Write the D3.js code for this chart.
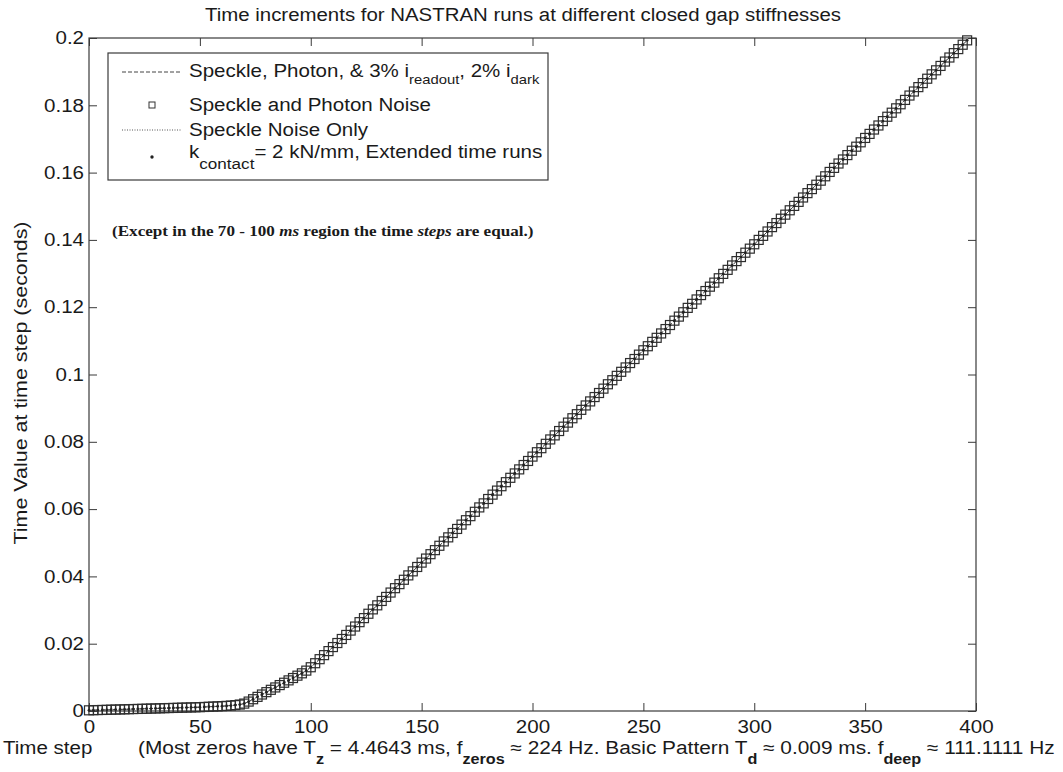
<!DOCTYPE html>
<html><head><meta charset="utf-8">
<script src="https://cdn.jsdelivr.net/npm/d3@7"></script>
<style>
body{margin:0;background:#fff}
text{font-family:"Liberation Sans",Arial,sans-serif;fill:#1a1a1a}
</style>
</head><body><svg id="c" width="1063" height="772"></svg>
<script>
// ---- data ----
const chartTitle = "Time increments for NASTRAN runs at different closed gap stiffnesses";
const yAxisTitle = "Time Value at time step (seconds)";
const xAxisTitle = "Time step";
const xTicks = [0, 50, 100, 150, 200, 250, 300, 350, 400];
const yTicks = [0, 0.02, 0.04, 0.06, 0.08, 0.1, 0.12, 0.14, 0.16, 0.18, 0.2];
const yTickLabels = ["0", "0.02", "0.04", "0.06", "0.08", "0.1", "0.12", "0.14", "0.16", "0.18", "0.2"];
const legendNames = ["Speckle, Photon, & 3% i_readout, 2% i_dark", "Speckle and Photon Noise", "Speckle Noise Only", "k_contact = 2 kN/mm, Extended time runs"];
const timeSteps = [0,2,4,6,8,10,12,14,16,18,20,22,24,26,28,30,32,34,36,38,40,42,44,46,48,50,52,54,56,58,60,62,64,66,68,
70,72,74,76,78,80,82,84,86,88,90,92,94,96,98,
100,102,104,106,108,110,112,114,116,118,120,122,124,126,128,130,132,134,136,138,140,142,144,146,148,
150,152,154,156,158,160,162,164,166,168,170,172,174,176,178,180,182,184,186,188,190,192,194,196,198,
200,202,204,206,208,210,212,214,216,218,220,222,224,226,228,230,232,234,236,238,240,242,244,246,248,
250,252,254,256,258,260,262,264,266,268,270,272,274,276,278,280,282,284,286,288,290,292,294,296,298,
300,302,304,306,308,310,312,314,316,318,320,322,324,326,328,330,332,334,336,338,340,342,344,346,348,
350,352,354,356,358,360,362,364,366,368,370,372,374,376,378,380,382,384,386,388,390,392,394,396];
const timeValues = [0.00020,0.00024,0.00028,0.00031,0.00035,0.00039,0.00043,0.00046,0.00050,0.00054,0.00058,0.00061,0.00065,0.00069,0.00073,0.00076,0.00080,0.00084,0.00088,0.00091,0.00095,0.00099,0.00103,0.00106,0.00110,0.00114,0.00120,0.00126,0.00132,0.00138,0.00144,0.00152,0.00162,0.00175,0.00192,
0.0022,0.0028,0.0035,0.0042,0.0049,0.0056,0.0063,0.0070,0.0077,0.0084,0.0091,0.0098,0.0105,0.0112,0.0120,
0.0130,0.0142,0.0154,0.0166,0.0178,0.0190,0.0202,0.0214,0.0226,0.0239,0.0251,0.0264,0.0276,0.0289,0.0302,0.0314,0.0327,0.0339,0.0352,0.0365,0.0377,0.0390,0.0403,0.0415,0.0428,
0.0441,0.0453,0.0466,0.0478,0.0491,0.0504,0.0516,0.0529,0.0541,0.0554,0.0567,0.0579,0.0592,0.0605,0.0617,0.0630,0.0643,0.0655,0.0668,0.0680,0.0693,0.0706,0.0718,0.0731,0.0743,
0.0756,0.0769,0.0781,0.0794,0.0807,0.0819,0.0832,0.0845,0.0857,0.0870,0.0882,0.0895,0.0908,0.0920,0.0933,0.0945,0.0958,0.0971,0.0983,0.0996,0.1008,0.1021,0.1034,0.1046,0.1059,
0.1072,0.1084,0.1097,0.1109,0.1122,0.1135,0.1147,0.1160,0.1172,0.1185,0.1198,0.1210,0.1223,0.1236,0.1248,0.1261,0.1273,0.1286,0.1299,0.1311,0.1324,0.1337,0.1349,0.1362,0.1374,
0.1387,0.1400,0.1412,0.1425,0.1438,0.1450,0.1463,0.1475,0.1488,0.1501,0.1513,0.1526,0.1539,0.1551,0.1564,0.1576,0.1589,0.1602,0.1614,0.1627,0.1639,0.1652,0.1665,0.1677,0.1690,
0.1703,0.1715,0.1728,0.1740,0.1753,0.1766,0.1778,0.1791,0.1803,0.1816,0.1829,0.1841,0.1854,0.1866,0.1879,0.1892,0.1904,0.1917,0.1930,0.1942,0.1955,0.1967,0.1980,0.1993];

// ---- drawing ----
const svg = d3.select("#c");
const L = 89, R = 976, T = 38, B = 711;
const x = d3.scaleLinear().domain([0, 400]).range([L, R]);
const y = d3.scaleLinear().domain([0, 0.2]).range([B, T]);
const pts = timeSteps.map((s, i) => [s, timeValues[i]]);
const axCol = "#3a3a3a";
const FS = "18px";
const K = 1.14; // horizontal stretch of the reference lettering

function stretch(sel, k) {
  sel.each(function () {
    const w = this.getComputedTextLength();
    this.setAttribute("textLength", (w * k).toFixed(1));
    this.setAttribute("lengthAdjust", "spacingAndGlyphs");
  });
}
function fitTo(sel, w) { sel.attr("textLength", w).attr("lengthAdjust", "spacingAndGlyphs"); }
function scaled(parent, px, py, k) {
  const g = parent.append("g").attr("transform", `translate(${px},${py}) scale(${k},1)`);
  return g.append("text").attr("x", 0).attr("y", 0);
}
// text runs with subscripts; the run after a subscript carries the shift back up
function richText(sel, parts, subSize, dy, subBold) {
  let back = 0;
  parts.forEach(p => {
    if (p.sub !== undefined) {
      const s = sel.append("tspan").attr("dy", dy).style("font-size", subSize).text(p.sub);
      if (subBold) s.style("font-weight", "bold");
      back = -dy;
    } else {
      const s = sel.append("tspan").text(p.t);
      if (back) s.attr("dy", back);
      back = 0;
    }
  });
}

svg.append("rect").attr("x", L).attr("y", T).attr("width", R - L).attr("height", B - T)
  .attr("fill", "none").attr("stroke", axCol).attr("stroke-width", 1.2);

const tl = 8;
const fmtY = d => yTickLabels[yTicks.indexOf(d)];
svg.append("g").attr("transform", `translate(0,${B})`)
  .call(d3.axisBottom(x).tickValues(xTicks).tickSizeInner(-tl).tickSizeOuter(0).tickPadding(9))
  .call(g => { g.select(".domain").remove(); g.selectAll("line").attr("stroke", axCol);
    g.selectAll("text").style("font-size", FS).attr("fill", "#1a1a1a").call(stretch, K); });
svg.append("g").attr("transform", `translate(0,${T})`)
  .call(d3.axisTop(x).tickValues(xTicks).tickSizeInner(-tl).tickSizeOuter(0).tickFormat(""))
  .call(g => { g.select(".domain").remove(); g.selectAll("line").attr("stroke", axCol); });
svg.append("g").attr("transform", `translate(${L},0)`)
  .call(d3.axisLeft(y).tickValues(yTicks).tickFormat(fmtY).tickSizeInner(-tl).tickSizeOuter(0).tickPadding(5))
  .call(g => { g.select(".domain").remove(); g.selectAll("line").attr("stroke", axCol);
    g.selectAll("text").style("font-size", FS).attr("fill", "#1a1a1a").call(stretch, K); });
svg.append("g").attr("transform", `translate(${R},0)`)
  .call(d3.axisRight(y).tickValues(yTicks).tickSizeInner(-tl).tickSizeOuter(0).tickFormat(""))
  .call(g => { g.select(".domain").remove(); g.selectAll("line").attr("stroke", axCol); });

// series (four overlapping runs)
const line = d3.line().x(d => x(d[0])).y(d => y(d[1]));
const plot = svg.append("g");
plot.append("path").datum(pts).attr("d", line).attr("fill", "none")
  .attr("stroke", "#444").attr("stroke-width", 1).attr("stroke-dasharray", "4,2");
plot.selectAll("rect.m").data(pts).join("rect").attr("class", "m")
  .attr("x", d => x(d[0]) - 4.5).attr("y", d => y(d[1]) - 4.5)
  .attr("width", 9).attr("height", 9).attr("fill", "none")
  .attr("stroke", "#2e2e2e").attr("stroke-width", 1.2);
plot.append("path").datum(pts).attr("d", line).attr("fill", "none")
  .attr("stroke", "#555").attr("stroke-width", 1).attr("stroke-dasharray", "1,2");
plot.selectAll("circle.m").data(pts).join("circle").attr("class", "m")
  .attr("cx", d => x(d[0])).attr("cy", d => y(d[1])).attr("r", 1.4).attr("fill", "#222");

// title and axis labels
svg.append("text").attr("x", 523).attr("y", 21).attr("text-anchor", "middle")
  .style("font-size", FS).text(chartTitle).call(fitTo, 636);
svg.append("text").attr("transform", `translate(27,383) rotate(-90)`).attr("text-anchor", "middle")
  .style("font-size", FS).text(yAxisTitle).call(fitTo, 323);
svg.append("text").attr("x", 3).attr("y", 754).style("font-size", FS).text(xAxisTitle).call(stretch, K);
const xl = scaled(svg, 138, 754, 1).style("font-size", FS);
richText(xl, [{t: "(Most zeros have T"}, {sub: "z"}, {t: " = 4.4643 ms, f"}, {sub: "zeros"}, {t: " \u2248 224 Hz. Basic Pattern T"}, {sub: "d"}, {t: " \u2248 0.009 ms. f"}, {sub: "deep"}, {t: " \u2248 111.1111 Hz"}], "14px", 10, true);
const xlW = xl.node().getComputedTextLength();
d3.select(xl.node().parentNode).attr("transform", `translate(138,754) scale(${(917 / xlW).toFixed(4)},1)`);

// legend
const lg = svg.append("g");
const LX = 108, LY = 53, LW = 440, LH = 127;
lg.append("rect").attr("x", LX).attr("y", LY).attr("width", LW).attr("height", LH)
  .attr("fill", "#fff").attr("stroke", axCol).attr("stroke-width", 1.2);
const rows = [72, 105, 130, 157];
lg.append("line").attr("x1", 122).attr("x2", 182).attr("y1", rows[0]).attr("y2", rows[0])
  .attr("stroke", "#444").attr("stroke-dasharray", "4,2");
lg.append("rect").attr("x", 149).attr("y", rows[1] - 3).attr("width", 6).attr("height", 6)
  .attr("fill", "none").attr("stroke", "#333");
lg.append("line").attr("x1", 122).attr("x2", 182).attr("y1", rows[2]).attr("y2", rows[2])
  .attr("stroke", "#555").attr("stroke-dasharray", "1,1.5");
lg.append("circle").attr("cx", 152).attr("cy", rows[3]).attr("r", 1.7).attr("fill", "#222");
const t0 = scaled(lg, 189, 77, K).style("font-size", FS);
richText(t0, [{t: "Speckle, Photon, & 3% i"}, {sub: "readout"}, {t: ", 2% i"}, {sub: "dark"}], "13px", 7, false);
lg.append("text").attr("x", 189).attr("y", 111).style("font-size", FS).text(legendNames[1]).call(stretch, K);
lg.append("text").attr("x", 189).attr("y", 136).style("font-size", FS).text(legendNames[2]).call(stretch, K);
const t3 = scaled(lg, 189, 158, K).style("font-size", FS);
richText(t3, [{t: "k"}, {sub: "contact"}, {t: "= 2 kN/mm, Extended time runs"}], "15px", 11, false);

// annotation
const an = scaled(svg, 112, 236, K)
  .style("font-family", "'Liberation Serif','Times New Roman',serif").style("font-weight", "bold").style("font-size", "15px");
an.append("tspan").text("(Except in the 70 - 100 ");
an.append("tspan").style("font-style", "italic").text("ms");
an.append("tspan").text(" region the time ");
an.append("tspan").style("font-style", "italic").text("steps");
an.append("tspan").text(" are equal.)");
</script>
</body></html>
